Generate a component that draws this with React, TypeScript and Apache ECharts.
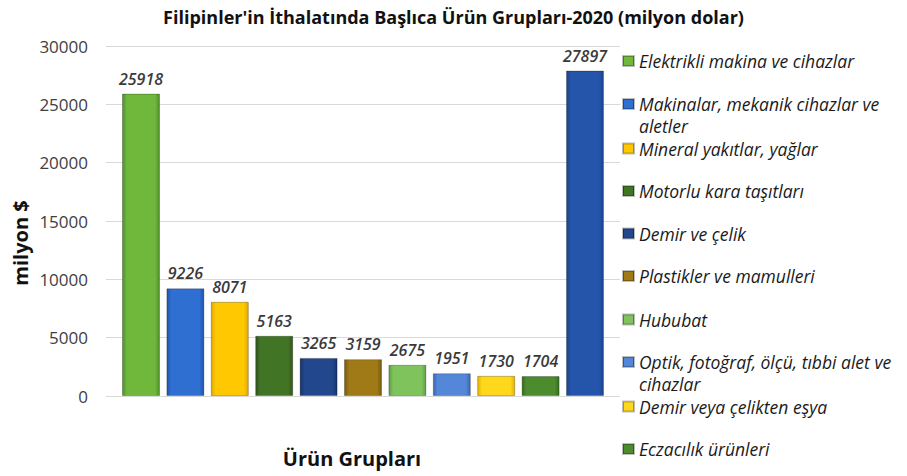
import React, { useEffect, useRef } from 'react';
import * as echarts from 'echarts';

const categories = [
  'Elektrikli makina ve cihazlar',
  'Makinalar, mekanik cihazlar ve aletler',
  'Mineral yakıtlar, yağlar',
  'Motorlu kara taşıtları',
  'Demir ve çelik',
  'Plastikler ve mamulleri',
  'Hububat',
  'Optik, fotoğraf, ölçü, tıbbi alet ve cihazlar',
  'Demir veya çelikten eşya',
  'Eczacılık ürünleri',
  'Diğer',
];
const legendLabels = [
  'Elektrikli makina ve cihazlar',
  'Makinalar, mekanik cihazlar ve\naletler',
  'Mineral yakıtlar, yağlar',
  'Motorlu kara taşıtları',
  'Demir ve çelik',
  'Plastikler ve mamulleri',
  'Hububat',
  'Optik, fotoğraf, ölçü, tıbbi alet ve\ncihazlar',
  'Demir veya çelikten eşya',
  'Eczacılık ürünleri',
];
const values = [25918, 9226, 8071, 5163, 3265, 3159, 2675, 1951, 1730, 1704, 27897];
const yTicks = [0, 5000, 10000, 15000, 20000, 25000, 30000];
const barColors = [
  ['#4f8f2a', '#70b83c'],
  ['#1f55ad', '#2f6fd2'],
  ['#e0a800', '#ffc800'],
  ['#2f5419', '#427425'],
  ['#17346b', '#23478c'],
  ['#77590c', '#a07a16'],
  ['#5f9f41', '#7fc35c'],
  ['#3a66b3', '#5587d8'],
  ['#e8b400', '#ffd81c'],
  ['#386d20', '#4c8c2e'],
  ['#1a428a', '#2455ab'],
];

const FONT = '"Open Sans", Lato, sans-serif';

export default function App() {
  const ref = useRef<HTMLDivElement>(null);
  useEffect(() => {
    if (!ref.current) return;
    const chart = echarts.init(ref.current, undefined, { renderer: 'svg' });
    const gridTop = 46;
    const gridBottom = 80;
    const series = categories.map((name, i) => ({
      name,
      type: 'bar',
      xAxisIndex: 1,
      yAxisIndex: 1,
      stack: 'all',
      barWidth: 38,
      data: values.map((v, j) => (j === i ? v : '-')),
      itemStyle: {
        color: new echarts.graphic.LinearGradient(0, 0, 1, 0, [
          { offset: 0, color: barColors[i][0] },
          { offset: 0.12, color: barColors[i][1] },
          { offset: 0.88, color: barColors[i][1] },
          { offset: 1, color: barColors[i][0] },
        ]),
        borderColor: 'rgba(0,0,0,0.25)',
        borderWidth: 1,
      },
      label: {
        show: true,
        position: 'top',
        distance: 7,
        fontFamily: FONT,
        fontStyle: 'italic',
        fontWeight: 600,
        fontSize: 16,
        color: '#3a3a3a',
      },
    }));
    const LH = 22;
    const slots = [61, 104, 148.5, 191, 233.5, 276, 319.5, 362, 406.5, 449];
    const legends = legendLabels.map((lab, i) => {
      const two = lab.indexOf('\n') >= 0;
      return {
        data: [categories[i]],
        orient: 'vertical',
        left: 622,
        top: slots[i] - (two ? LH * 1.5 : LH / 2),
        padding: 0,
        itemGap: 0,
        itemWidth: 11,
        itemHeight: 10,
        icon: 'rect',
        selectedMode: false,
        formatter: () => (two ? ' \n' + lab : lab),
        textStyle: {
          fontFamily: FONT,
          fontStyle: 'italic',
          fontSize: 17.5,
          color: '#1a1a1a',
          lineHeight: LH,
        },
      };
    });
    chart.setOption({
      animation: false,
      backgroundColor: '#ffffff',
      title: {
        text: "Filipinler'in İthalatında Başlıca Ürün Grupları-2020 (milyon dolar)",
        left: 'center',
        top: 3,
        textStyle: { fontFamily: FONT, fontWeight: 'bold', fontSize: 18, color: '#111' },
      },
      legend: legends,
      grid: [
        { left: 106, right: 287, top: gridTop, bottom: gridBottom },
        { left: 118.8, right: 299.8, top: gridTop, bottom: gridBottom },
      ],
      xAxis: [
        { type: 'category', gridIndex: 0, data: [''], show: false },
        { type: 'category', gridIndex: 1, data: categories, show: false },
      ],
      yAxis: [
        {
          type: 'value',
          gridIndex: 0,
          min: yTicks[0],
          max: yTicks[yTicks.length - 1],
          interval: 5000,
          axisLine: { show: false },
          axisTick: { show: false },
          axisLabel: {
            margin: 18,
            fontFamily: FONT,
            fontSize: 17,
            color: '#404040',
            formatter: (v: number) => String(v),
          },
          splitLine: { lineStyle: { color: '#d9d9d9', width: 1 } },
        },
        {
          type: 'value',
          gridIndex: 1,
          min: yTicks[0],
          max: yTicks[yTicks.length - 1],
          interval: 5000,
          show: false,
          splitLine: { show: false },
        },
      ],
      graphic: [
        {
          type: 'text',
          x: 20,
          y: 243,
          rotation: Math.PI / 2,
          style: {
            text: 'milyon $',
            fontFamily: FONT,
            fontWeight: 'bold',
            fontSize: 20,
            fill: '#111',
            textAlign: 'center',
            textVerticalAlign: 'middle',
          },
        },
        {
          type: 'text',
          x: 352,
          y: 458,
          style: {
            text: 'Ürün Grupları',
            fontFamily: FONT,
            fontWeight: 'bold',
            fontSize: 20,
            fill: '#111',
            textAlign: 'center',
            textVerticalAlign: 'middle',
          },
        },
      ],
      series,
    });
    return () => chart.dispose();
  }, []);
  return (
    <div
      ref={ref}
      style={{ position: 'fixed', left: 0, top: 0, width: 907, height: 476 }}
    />
  );
}
